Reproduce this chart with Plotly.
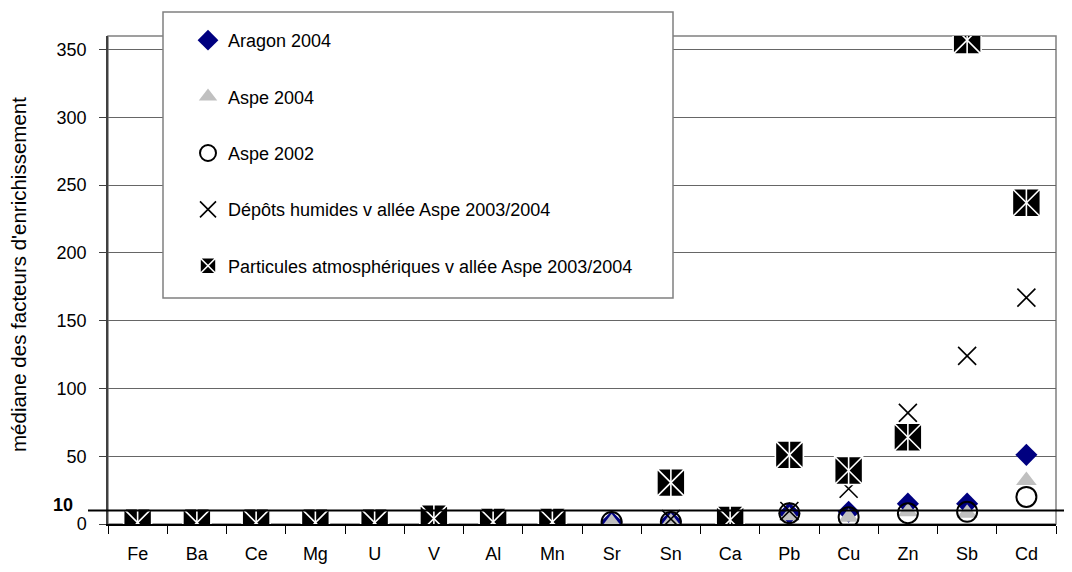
import plotly.graph_objects as go

categories = ["Fe", "Ba", "Ce", "Mg", "U", "V", "Al", "Mn", "Sr", "Sn", "Ca", "Pb", "Cu", "Zn", "Sb", "Cd"]
aragon_2004 = [1, 1, 1, 1, 1, 2, 1, 1, 1.5, 2, 1, 8, 9, 15, 15, 51]
aspe_2004 = [1, 1, 1, 1, 1, 1, 1, 1, 1, 1.5, 1, 6, 5, 9, 8, 32]
aspe_2002 = [1, 1, 1, 1, 1, 1, 1, 1, 1.5, 1.5, 1, 8, 5, 8, 9, 20]
depots_humides = [1, 1, 1, 1, 1, 5, 1, 3.5, None, 3.7, 2, 9.6, 26, 82, 124, 167]
particules = [1, 1, 1, 1, 1, 4, 1.5, 1.5, None, 30.5, 3, 51, 39.5, 64, 357, 237]
y_ticks = [0, 50, 100, 150, 200, 250, 300, 350]
ref_level = 10

FONT = "Liberation Sans, Arial, sans-serif"

# page offset (body margin) and plot-area geometry in window pixels
OFF = 8
W, H = 1072 - OFF, 572 - OFF
PL, PR, PT, PB = 108, 1056, 36, 524
L, T = PL - OFF, PT - OFF
R, B = W - (PR - OFF), H - (PB - OFF)
pw, ph = PR - PL, PB - PT


def px_x(p):
    return (p - PL) / pw


def px_y(p):
    return (PB - p) / ph


fig = go.Figure()

fig.add_trace(go.Scatter(
    x=categories, y=aragon_2004, mode="markers", name="Aragon 2004",
    legendgroup="a",
    marker=dict(symbol="diamond", size=17, color="#000080", line=dict(width=0))))
fig.add_trace(go.Scatter(
    x=categories, y=aspe_2004, mode="markers", name="Aspe 2004",
    legendgroup="b",
    marker=dict(symbol="triangle-up", size=18, color="#c0c0c0", line=dict(width=0))))
fig.add_trace(go.Scatter(
    x=categories, y=aspe_2002, mode="markers", name="Aspe 2002",
    legendgroup="c",
    marker=dict(symbol="circle-open", size=20, color="#000000", line=dict(width=2, color="#000000"))))
fig.add_trace(go.Scatter(
    x=categories, y=depots_humides, mode="markers",
    name="Dépôts humides v allée Aspe 2003/2004", legendgroup="d",
    marker=dict(symbol="x-thin-open", size=18, color="#000000", line=dict(width=1.6, color="#000000"))))
fig.add_trace(go.Scatter(
    x=categories, y=particules, mode="markers",
    name="Particules atmosphériques v allée Aspe 2003/2004", legendgroup="e",
    marker=dict(symbol="square-x", size=28, color="#000000", line=dict(width=1.6, color="#ffffff"))))
fig.add_trace(go.Scatter(
    x=categories, y=particules, mode="markers", showlegend=False, hoverinfo="skip",
    marker=dict(symbol="line-ns-open", size=20, color="#ffffff", line=dict(width=1.6, color="#ffffff"))))

shapes = [
    dict(type="rect", xref="paper", yref="paper", x0=0, x1=1, y0=0, y1=1,
         line=dict(color="#808080", width=1.5), layer="below"),
    dict(type="line", xref="paper", yref="y", x0=px_x(88), x1=px_x(1072), y0=ref_level, y1=ref_level,
         line=dict(color="#000000", width=2), layer="above"),
    dict(type="rect", xref="paper", yref="paper", x0=px_x(163), x1=px_x(673), y0=px_y(298), y1=px_y(12),
         line=dict(color="#808080", width=1.5), fillcolor="#ffffff", layer="above"),
]

annotations = [
    dict(text="<b>10</b>", xref="paper", yref="paper", x=px_x(75), y=px_y(505),
         xanchor="right", yanchor="middle", showarrow=False,
         font=dict(family=FONT, size=18, color="#000000")),
    dict(text="médiane des facteurs d'enrichissement", xref="paper", yref="paper",
         x=px_x(18), y=px_y(275), textangle=-90, xanchor="center", yanchor="middle",
         showarrow=False, font=dict(family=FONT, size=20.5, color="#000000")),
]

fig.update_layout(
    width=W, height=H,
    margin=dict(l=L, r=R, t=T, b=B, pad=0),
    paper_bgcolor="#ffffff", plot_bgcolor="#ffffff",
    font=dict(family=FONT, size=18, color="#000000"),
    shapes=shapes, annotations=annotations,
    showlegend=True,
    legend=dict(x=px_x(188), y=px_y(22), xanchor="left", yanchor="top",
                bgcolor="rgba(0,0,0,0)", borderwidth=0,
                traceorder="grouped", tracegroupgap=30,
                font=dict(family=FONT, size=18, color="#000000")),
    xaxis=dict(type="category", categoryorder="array", categoryarray=categories,
               range=[-0.5, len(categories) - 0.5], automargin=False,
               showgrid=False, showline=True, linecolor="#000000", linewidth=1.5,
               ticks="outside", tickson="boundaries", ticklen=8, tickcolor="#000000", tickwidth=1,
               ticklabelstandoff=13, tickfont=dict(family=FONT, size=18), zeroline=False),
    yaxis=dict(range=[0, 360], tickvals=y_ticks, showgrid=True, gridcolor="#666666", gridwidth=1,
               showline=True, linecolor="#404040", linewidth=1.5, automargin=False,
               ticks="outside", ticklen=7, tickcolor="#404040",
               tickfont=dict(family=FONT, size=18), zeroline=False, ticklabelstandoff=9),
)

fig.write_html("out.html")
